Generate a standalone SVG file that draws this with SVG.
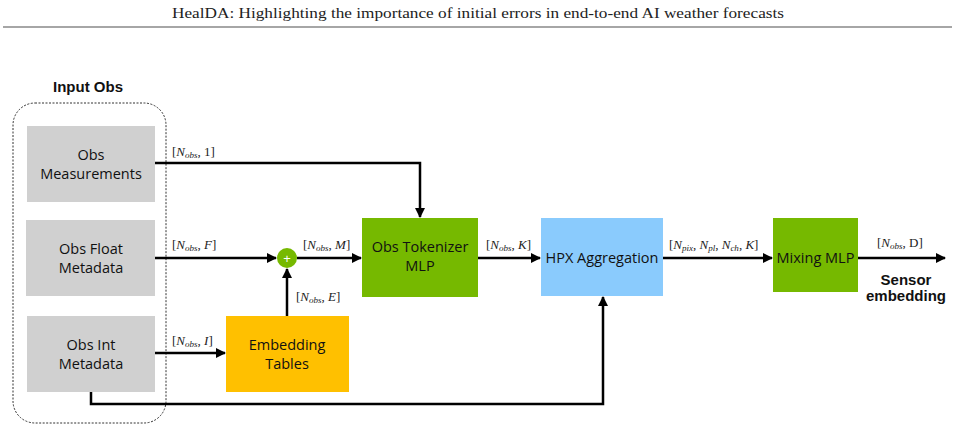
<svg xmlns="http://www.w3.org/2000/svg" width="955" height="429" viewBox="0 0 955 429">
<style>
.title{font-family:"Liberation Serif",serif;font-size:15px;fill:#222}
.box{font-family:"Open Sans","Liberation Sans",sans-serif;font-size:14.5px;fill:#111;text-anchor:middle}
.bold{font-family:"Liberation Sans",Arial,sans-serif;font-weight:bold;font-size:15px;fill:#111;text-anchor:middle}
.lab{font-family:"Liberation Serif",serif;font-size:13px;fill:#222}
.it{font-style:italic}
.sub{font-style:italic;font-size:9px}
.ln{fill:none;stroke:#000;stroke-width:2.5}
</style>
<defs>
<marker id="ah" viewBox="0 0 10 10" refX="9" refY="5" markerWidth="4" markerHeight="4" orient="auto" markerUnits="strokeWidth">
<path d="M0,0 L10,5 L0,10 z" fill="#000"/>
</marker>
</defs>
<rect width="955" height="429" fill="#fff"/>
<text class="title" x="478" y="18" text-anchor="middle" textLength="612" lengthAdjust="spacingAndGlyphs">HealDA: Highlighting the importance of initial errors in end-to-end AI weather forecasts</text>
<line x1="3" y1="27" x2="952" y2="27" stroke="#888" stroke-width="1.5"/>

<g id="input-obs">
<text class="bold" x="88" y="92">Input Obs</text>
<rect x="13" y="103" width="153" height="320" rx="22" fill="none" stroke="#333" stroke-width="1" stroke-dasharray="2,1.5"/>
</g>
<g id="obs-measurements">
<rect x="27" y="126" width="128" height="76" fill="#D0D0D0"/>
<text class="box" x="91" y="160">Obs</text>
<text class="box" x="91" y="179">Measurements</text>
</g>
<g id="obs-float">
<rect x="26" y="220" width="129" height="76" fill="#D0D0D0"/>
<text class="box" x="91" y="254">Obs Float</text>
<text class="box" x="91" y="273">Metadata</text>
</g>
<g id="obs-int">
<rect x="27" y="316" width="128" height="76" fill="#D0D0D0"/>
<text class="box" x="91" y="350">Obs Int</text>
<text class="box" x="91" y="369">Metadata</text>
</g>
<g id="embedding">
<rect x="226" y="316" width="123" height="76" fill="#FFC000"/>
<text class="box" x="287" y="350">Embedding</text>
<text class="box" x="287" y="369">Tables</text>
</g>
<g id="plus">
<circle cx="287" cy="258" r="10" fill="#76B900"/>
<text x="287" y="262.5" text-anchor="middle" font-family="Liberation Sans,sans-serif" font-size="13" fill="#fff">+</text>
</g>
<g id="tokenizer">
<rect x="362" y="218" width="116" height="79" fill="#76B900"/>
<text class="box" x="420" y="252">Obs Tokenizer</text>
<text class="box" x="420" y="271">MLP</text>
</g>
<g id="hpx">
<rect x="541" y="218" width="122" height="78" fill="#8ACBFD"/>
<text class="box" x="602" y="263">HPX Aggregation</text>
</g>
<g id="mixing">
<rect x="773" y="218" width="85" height="74" fill="#76B900"/>
<text class="box" x="815.5" y="263">Mixing MLP</text>
</g>
<g id="sensor">
<text class="bold" x="906" y="285" font-size="13.5">Sensor</text>
<text class="bold" x="906" y="301" font-size="13.5">embedding</text>
</g>

<g id="connectors">
<polyline class="ln" points="155,163 420,163 420,217" marker-end="url(#ah)"/>
<line class="ln" x1="155" y1="258" x2="276" y2="258" marker-end="url(#ah)"/>
<line class="ln" x1="297" y1="258" x2="361" y2="258" marker-end="url(#ah)"/>
<line class="ln" x1="287" y1="316" x2="287" y2="269" marker-end="url(#ah)"/>
<line class="ln" x1="155" y1="353" x2="225" y2="353" marker-end="url(#ah)"/>
<line class="ln" x1="478" y1="258" x2="540" y2="258" marker-end="url(#ah)"/>
<line class="ln" x1="663" y1="258" x2="772" y2="258" marker-end="url(#ah)"/>
<line class="ln" x1="858" y1="258" x2="945" y2="258" marker-end="url(#ah)"/>
<polyline class="ln" points="91,392 91,404 603,404 603,297" marker-end="url(#ah)"/>
</g>

<g id="labels">
<text class="lab" x="172" y="156">[<tspan class="it">N</tspan><tspan class="sub" dy="2">obs</tspan><tspan dy="-2">, 1]</tspan></text>
<text class="lab" x="172" y="249">[<tspan class="it">N</tspan><tspan class="sub" dy="2">obs</tspan><tspan dy="-2">, </tspan><tspan class="it">F</tspan>]</text>
<text class="lab" x="303" y="249">[<tspan class="it">N</tspan><tspan class="sub" dy="2">obs</tspan><tspan dy="-2">, </tspan><tspan class="it">M</tspan>]</text>
<text class="lab" x="296" y="301">[<tspan class="it">N</tspan><tspan class="sub" dy="2">obs</tspan><tspan dy="-2">, </tspan><tspan class="it">E</tspan>]</text>
<text class="lab" x="172" y="345">[<tspan class="it">N</tspan><tspan class="sub" dy="2">obs</tspan><tspan dy="-2">, </tspan><tspan class="it">I</tspan>]</text>
<text class="lab" x="486" y="249">[<tspan class="it">N</tspan><tspan class="sub" dy="2">obs</tspan><tspan dy="-2">, </tspan><tspan class="it">K</tspan>]</text>
<text class="lab" x="669" y="249">[<tspan class="it">N</tspan><tspan class="sub" dy="2">pix</tspan><tspan dy="-2">, </tspan><tspan class="it">N</tspan><tspan class="sub" dy="2">pl</tspan><tspan dy="-2">, </tspan><tspan class="it">N</tspan><tspan class="sub" dy="2">ch</tspan><tspan dy="-2">, </tspan><tspan class="it">K</tspan>]</text>
<text class="lab" x="877" y="247">[<tspan class="it">N</tspan><tspan class="sub" dy="2">obs</tspan><tspan dy="-2">, D]</tspan></text>
</g>
</svg>
